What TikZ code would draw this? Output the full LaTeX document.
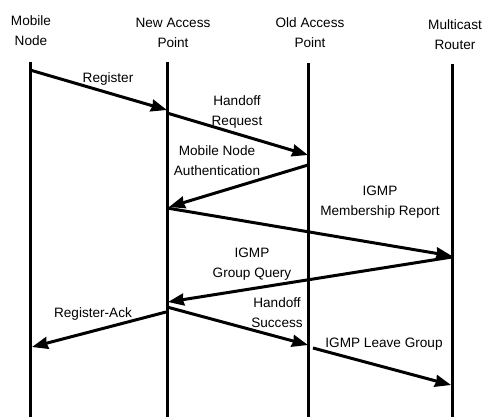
\documentclass[tikz,border=0pt]{standalone}
\usepackage{fontspec}
\setmainfont{Liberation Sans}
\usetikzlibrary{arrows.meta}
\begin{document}
\begin{tikzpicture}[x=1bp, y=-1bp, >={Stealth[length=16bp, width=12bp, inset=1bp]},
    lane/.style={line width=3bp},
    msg/.style={line width=3bp, ->},
    lbl/.style={align=center, anchor=base, inner sep=0pt,
      font=\fontsize{13.6bp}{19.5bp}\selectfont}]
    \useasboundingbox (0, 0) rectangle (483, 417);
    % heads of the four lanes (base = last line)
    \node[lbl] (mn) at (31, 45) {Mobile\\Node};
    \node[lbl] (nap) at (173, 47) {New Access\\Point};
    \node[lbl] (oap) at (310, 47) {Old Access\\Point};
    \node[lbl] (mr) at (455, 49) {Multicast\\Router};
    \draw[lane] (30, 62) coordinate (mn-top) -- (30, 417) coordinate (mn-bot);
    \draw[lane] (167, 62) coordinate (nap-top) -- (167, 417) coordinate (nap-bot);
    \draw[lane] (308, 63) coordinate (oap-top) -- (308, 417) coordinate (oap-bot);
    \draw[lane] (452, 64) coordinate (mr-top) -- (452, 417) coordinate (mr-bot);
    % message ends
    \coordinate (reg-s) at (30, 70);   \coordinate (reg-e) at (167, 110);
    \coordinate (hreq-s) at (167, 113); \coordinate (hreq-e) at (308, 155);
    \coordinate (auth-s) at (308, 165); \coordinate (auth-e) at (169, 207);
    \coordinate (rep-s) at (167, 208);  \coordinate (rep-e) at (452, 256);
    \coordinate (qry-s) at (452, 257);  \coordinate (qry-e) at (168, 302);
    \coordinate (ack-s) at (166, 312);  \coordinate (ack-e) at (32, 347);
    \coordinate (hsuc-s) at (167, 307); \coordinate (hsuc-e) at (308, 345);
    \coordinate (lv-s) at (313, 348);   \coordinate (lv-e) at (451, 385);
    % messages
    \draw[msg] (reg-s) -- (reg-e);
    \draw[msg] (hreq-s) -- (hreq-e);
    \draw[msg] (auth-s) -- (auth-e);
    \draw[msg] (rep-s) -- (rep-e);
    \draw[msg] (qry-s) -- (qry-e);
    \draw[msg] (ack-s) -- (ack-e);
    \draw[msg] (hsuc-s) -- (hsuc-e);
    \draw[msg] (lv-s) -- (lv-e);
    \node[lbl] (reg) at (108, 82) {Register};
    \node[lbl] (hreq) at (237, 125) {Handoff\\Request};
    \node[lbl] (auth) at (217, 175) {Mobile Node\\Authentication};
    \node[lbl] (rep) at (380, 215) {IGMP\\Membership Report};
    \node[lbl] (qry) at (252, 277) {IGMP\\Group Query};
    \node[lbl] (ack) at (93, 317) {Register-Ack};
    \node[lbl] (hsuc) at (277, 327) {Handoff\\Success};
    \node[lbl] (lv) at (384, 347) {IGMP Leave Group};
  \end{tikzpicture}
\end{document}
